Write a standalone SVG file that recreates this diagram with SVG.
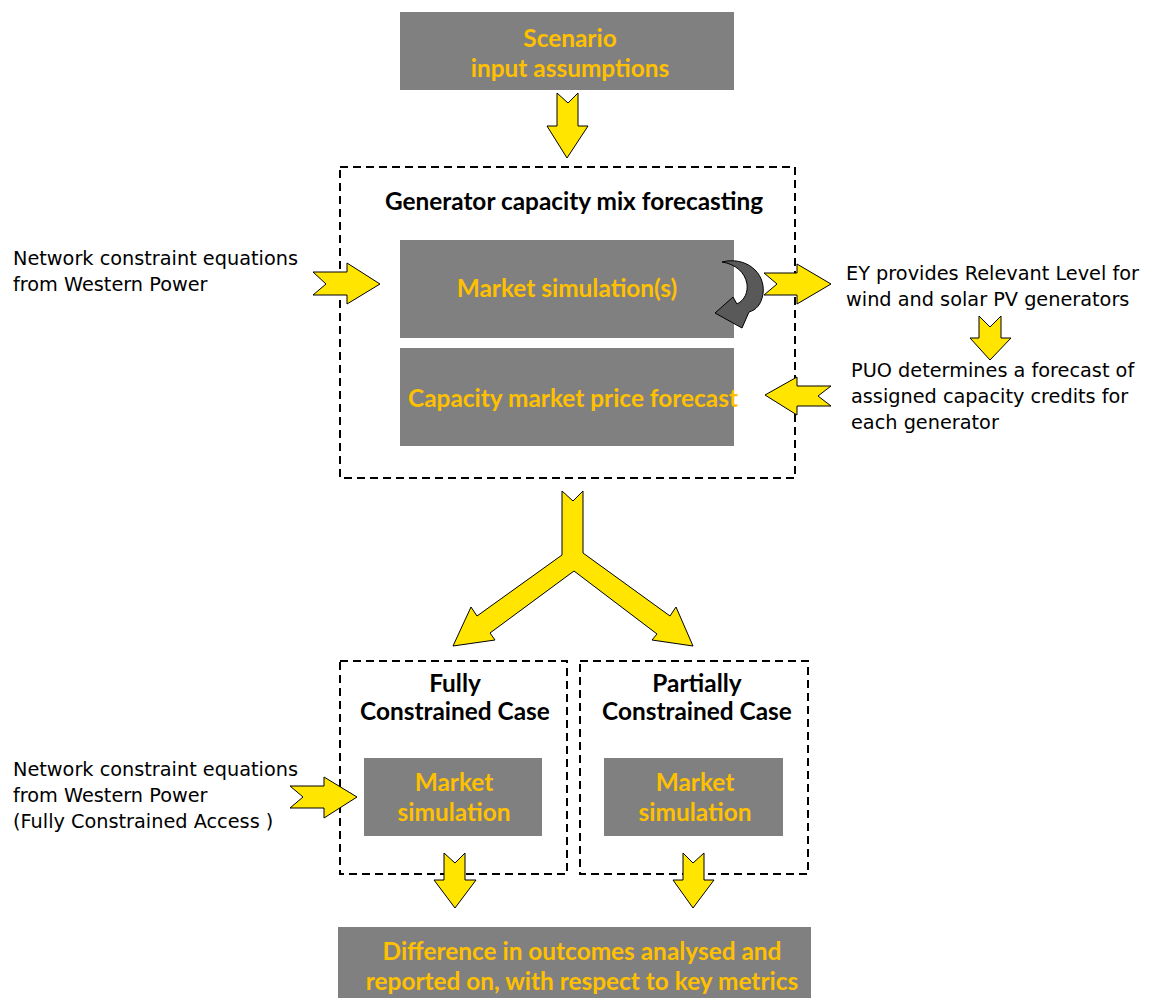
<svg xmlns="http://www.w3.org/2000/svg" width="1149" height="998" viewBox="0 0 1149 998">
<style>
.box{fill:#808080;}
.dash{fill:none;stroke:#000;stroke-width:2;stroke-dasharray:8,5;}
.arr{fill:#FFE500;stroke:#000;stroke-width:1;stroke-linejoin:miter;}
.yt{font-family:Lato,"Open Sans",sans-serif;font-weight:bold;font-size:24.4px;fill:#FFC000;text-anchor:middle;}
.bt{font-family:Lato,"Open Sans",sans-serif;font-weight:bold;font-size:24.4px;fill:#000;text-anchor:middle;}
.nt{font-family:"DejaVu Sans",sans-serif;font-size:19.3px;fill:#000;}
</style>
<rect width="1149" height="998" fill="#fff"/>
<g id="scenario">
<rect class="box" x="400" y="12" width="334" height="78"/>
<text class="yt" x="570" y="47">Scenario</text>
<text class="yt" x="570" y="77">input assumptions</text>
</g>
<g id="gen-mix">
<rect class="dash" x="340" y="167" width="455" height="311"/>
<text class="bt" x="574" y="210">Generator capacity mix forecasting</text>
</g>
<g id="market-sim">
<rect class="box" x="400" y="240" width="334" height="98"/>
<text class="yt" x="567" y="297">Market simulation(s)</text>
</g>
<g id="capacity-price">
<rect class="box" x="400" y="348" width="334" height="98"/>
<text class="yt" x="573" y="407">Capacity market price forecast</text>
</g>
<g id="network-1">
<text class="nt" x="13" y="265">Network constraint equations</text>
<text class="nt" x="13" y="291">from Western Power</text>
</g>
<g id="ey">
<text class="nt" x="846" y="280">EY provides Relevant Level for</text>
<text class="nt" x="846" y="306">wind and solar PV generators</text>
</g>
<g id="puo">
<text class="nt" x="851" y="377">PUO determines a forecast of</text>
<text class="nt" x="851" y="403">assigned capacity credits for</text>
<text class="nt" x="851" y="429">each generator</text>
</g>
<g id="fully">
<rect class="dash" x="340" y="661" width="227" height="213"/>
<text class="bt" x="455" y="692">Fully</text>
<text class="bt" x="455" y="720">Constrained Case</text>
<rect class="box" x="364" y="758" width="178" height="78"/>
<text class="yt" x="454" y="791">Market</text>
<text class="yt" x="454" y="821">simulation</text>
</g>
<g id="partially">
<rect class="dash" x="580" y="661" width="228" height="213"/>
<text class="bt" x="697" y="692">Partially</text>
<text class="bt" x="697" y="720">Constrained Case</text>
<rect class="box" x="604" y="758" width="179" height="78"/>
<text class="yt" x="695" y="791">Market</text>
<text class="yt" x="695" y="821">simulation</text>
</g>
<g id="network-2">
<text class="nt" x="13" y="776">Network constraint equations</text>
<text class="nt" x="13" y="802">from Western Power</text>
<text class="nt" x="13" y="828">(Fully Constrained Access )</text>
</g>
<g id="difference">
<rect class="box" x="338" y="927" width="473" height="75"/>
<text class="yt" x="582" y="960">Difference in outcomes analysed and</text>
<text class="yt" x="582" y="990">reported on, with respect to key metrics</text>
</g>
<g id="connectors">
<polygon class="arr" points="557,93 568,103 578,93 578,126 588,126 567,158 547,126 557,126"/>
<polygon class="arr" points="313,272 347,272 347,263 380,284 347,304 347,295 313,295 326,284"/>
<polygon class="arr" points="764,273 797,273 797,264 831,284 797,304 797,295 764,295 777,284"/>
<polygon class="arr" points="979,316 990,327 1001,316 1001,338 1011,338 990,360 970,338 979,338"/>
<polygon class="arr" points="831,386 818,396 831,406 797,406 797,415 765,395 797,377 797,386"/>
<polygon class="arr" points="562,491 573,501 583,491 583,553 670,616 676,607 693,646 652,640 657,634 574,571 490,633 495,640 453,646 471,607 477,616 562,555"/>
<polygon class="arr" points="290,786 324,786 324,777 357,797 324,818 324,808 290,808 303,797"/>
<polygon class="arr" points="444,853 455,863 465,853 465,880 476,880 455,908 434,880 444,880"/>
<polygon class="arr" points="683,853 693,863 704,853 704,880 714,880 693,908 673,880 683,880"/>
<path d="M722,262 C745,256 766,272 763,294 C761,305 756,310 749,312 L742,328 L715,313 L733,297 L737,304 C745,300 748,292 747,284 C745,272 735,264 722,262 Z" fill="#595959" stroke="#000" stroke-width="1"/>
</g>
</svg>
